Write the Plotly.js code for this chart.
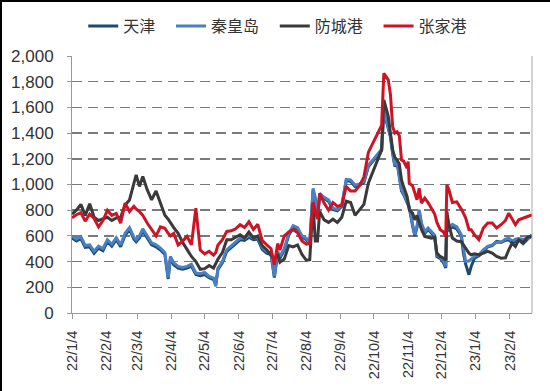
<!DOCTYPE html>
<html>
<head>
<meta charset="utf-8">
<script src="https://cdn.plot.ly/plotly-3.0.1.min.js"></script>
<style>
html,body{margin:0;padding:0;background:#fff;}
#wrap{position:relative;width:550px;height:391px;overflow:hidden;}
#chart{width:550px;height:391px;}
#frame{position:absolute;left:0;top:0;width:550px;height:391px;border-left:2px solid #000;border-top:2px solid #000;box-sizing:border-box;pointer-events:none;}
</style>
</head>
<body>
<div id="wrap"><div id="chart"></div><div id="frame"></div></div>
<script>
const seriesNames = ["天津", "秦皇岛", "防城港", "张家港"];
const seriesColors = ["#1b4a72", "#4a7fc1", "#3a3a3a", "#cc1424"];

const dates = [
"2022-01-04","2022-01-08","2022-01-12","2022-01-16","2022-01-20","2022-01-24","2022-01-28","2022-02-01",
"2022-02-05","2022-02-09","2022-02-13","2022-02-17","2022-02-21","2022-02-25","2022-03-01","2022-03-03",
"2022-03-06","2022-03-09","2022-03-13","2022-03-17","2022-03-21","2022-03-25","2022-03-29","2022-04-01",
"2022-04-03","2022-04-06","2022-04-10","2022-04-14","2022-04-18","2022-04-22","2022-04-26","2022-04-30",
"2022-05-04","2022-05-08","2022-05-12","2022-05-14","2022-05-16","2022-05-20","2022-05-24","2022-05-28",
"2022-06-01","2022-06-05","2022-06-09","2022-06-13","2022-06-17","2022-06-21","2022-06-25","2022-06-29",
"2022-07-03","2022-07-06","2022-07-09","2022-07-11","2022-07-15","2022-07-19","2022-07-23","2022-07-27",
"2022-07-31","2022-08-04","2022-08-07","2022-08-10","2022-08-12","2022-08-14","2022-08-16","2022-08-20",
"2022-08-24","2022-08-28","2022-09-01","2022-09-05","2022-09-09","2022-09-13","2022-09-17","2022-09-21",
"2022-09-25","2022-09-29","2022-10-03","2022-10-07","2022-10-11","2022-10-13","2022-10-15","2022-10-17",
"2022-10-19","2022-10-21","2022-10-23","2022-10-25","2022-10-27","2022-10-29","2022-10-31","2022-11-03",
"2022-11-04","2022-11-05","2022-11-08","2022-11-10","2022-11-12","2022-11-14","2022-11-16","2022-11-19",
"2022-11-22","2022-11-25","2022-11-28","2022-11-30","2022-12-03","2022-12-06","2022-12-08","2022-12-09",
"2022-12-11","2022-12-14","2022-12-18","2022-12-22","2022-12-24","2022-12-26","2022-12-29","2022-12-31",
"2023-01-03","2023-01-07","2023-01-11","2023-01-15","2023-01-19","2023-01-23","2023-01-27","2023-01-31",
"2023-02-03","2023-02-06","2023-02-09","2023-02-12","2023-02-16","2023-02-20","2023-02-24"
];

const zhangjiagang = [
740,765,780,715,770,735,670,720,
800,760,775,700,855,790,830,810,
790,760,700,650,600,670,660,620,
600,620,530,560,596,530,816,490,
460,480,450,470,530,570,635,640,
655,687,665,710,650,690,565,531,
500,375,540,490,600,630,650,625,
560,535,540,860,800,730,930,855,
800,860,830,840,985,950,950,990,
1060,1250,1320,1390,1460,1865,1840,1814,
1700,1450,1400,1410,1380,1192,1180,1127,
1179,1010,990,933,881,971,855,894,
860,815,770,705,648,630,596,998,
955,860,865,810,777,740,648,648,
609,570,661,700,700,661,687,720,
777,735,687,725,735,751,764
];

const fangchenggang = [
770,800,845,760,850,745,720,730,
745,720,740,745,840,880,1000,1075,
985,1062,960,880,950,850,760,730,
700,665,620,550,495,440,400,340,
345,370,350,390,420,470,570,570,
590,609,585,630,585,600,525,492,
450,420,460,395,420,525,515,530,
455,410,415,850,560,560,790,725,
705,730,705,745,870,860,760,800,
845,1010,1100,1190,1270,1658,1600,1530,
1400,1270,1210,1190,1160,1036,980,907,
860,803,777,725,760,700,650,596,
590,583,590,466,440,427,410,790,
680,583,560,555,530,500,466,453,
460,453,465,480,466,440,427,430,
492,544,518,570,550,590,596
];

const qinhuangdao = [
600,575,595,525,530,480,520,500,
570,535,585,530,620,665,590,570,
600,655,600,545,530,505,470,275,
440,390,363,355,363,380,311,305,
315,285,272,207,350,400,492,525,
550,583,580,605,583,590,510,479,
470,285,480,440,500,620,680,665,
600,580,545,970,900,750,930,900,
880,815,805,840,1040,1036,995,1005,
1025,1150,1190,1235,1275,1580,1510,1450,
1380,1250,1150,1180,1080,960,930,870,
840,830,690,609,674,803,700,630,
661,630,605,450,435,400,363,725,
665,690,670,610,492,402,405,420,
440,453,492,518,530,550,550,575,
583,560,575,580,575,580,596
];

const tianjin = [
585,560,580,510,515,465,505,485,
555,520,570,515,605,650,575,555,
585,640,585,530,515,490,455,265,
425,375,350,340,350,365,300,290,
300,275,260,220,340,390,480,510,
535,570,565,590,570,575,495,465,
455,275,465,425,490,605,665,650,
590,570,535,955,885,740,920,890,
870,805,795,830,1030,1025,985,995,
1015,1140,1180,1225,1265,1570,1500,1440,
1370,1240,1140,1170,1070,950,920,860,
830,820,680,600,665,790,690,620,
650,620,595,440,425,390,350,710,
650,670,655,600,466,380,298,363,
427,445,475,515,525,557,550,565,
570,545,560,570,540,575,609
];

const tickDates = ["2022-01-04","2022-02-04","2022-03-04","2022-04-04","2022-05-04","2022-06-04","2022-07-04",
"2022-08-04","2022-09-04","2022-10-04","2022-11-04","2022-12-04","2023-01-04","2023-02-04"];
const tickLabels = ["22/1/4","22/2/4","22/3/4","22/4/4","22/5/4","22/6/4","22/7/4",
"22/8/4","22/9/4","22/10/4","22/11/4","22/12/4","23/1/4","23/2/4"];
const yTicks = [0,200,400,600,800,1000,1200,1400,1600,1800,2000];

const pad = "\u00a0\u00a0\u00a0";
const allValues = [tianjin, qinhuangdao, fangchenggang, zhangjiagang];
const traces = allValues.map((vals, i) => ({
  type: "scatter",
  mode: "lines",
  name: seriesNames[i] + (i < 3 ? pad : ""),
  x: dates,
  y: vals,
  line: {color: seriesColors[i], width: 3},
  hoverinfo: "skip"
}));

const layout = {
  width: 550,
  height: 391,
  margin: {l: 72, r: 18, t: 56, b: 78, pad: 0},
  paper_bgcolor: "#ffffff",
  plot_bgcolor: "#ffffff",
  font: {family: "Liberation Sans, Arial, sans-serif", color: "#333333"},
  showlegend: true,
  legend: {
    orientation: "h",
    xref: "container", yref: "container",
    x: 0.505, xanchor: "center",
    y: 0.933, yanchor: "middle",
    font: {family: "Noto Sans CJK SC, sans-serif", size: 16, color: "#333333"},
    itemwidth: 30,
    tracegroupgap: 0,
    bgcolor: "rgba(0,0,0,0)"
  },
  xaxis: {
    type: "date",
    range: ["2022-01-04", "2023-02-24"],
    tickmode: "array",
    tickvals: tickDates,
    ticktext: tickLabels,
    tickangle: -90,
    tickfont: {size: 14.5, color: "#333333"},
    ticks: "outside",
    ticklen: 5,
    tickcolor: "#999999",
    ticklabelstandoff: 6,
    showline: true,
    linecolor: "#999999",
    linewidth: 1,
    showgrid: false,
    zeroline: false,
    fixedrange: true
  },
  yaxis: {
    range: [0, 2000],
    tickmode: "array",
    tickvals: yTicks,
    tickformat: ",d",
    tickfont: {size: 17, color: "#333333"},
    ticks: "outside",
    ticklen: 4,
    tickcolor: "#999999",
    ticklabelstandoff: 10,
    showline: true,
    linecolor: "#999999",
    linewidth: 1,
    showgrid: true,
    gridcolor: "#7a7a7a",
    gridwidth: 1.5,
    griddash: "10px,6px",
    zeroline: false,
    fixedrange: true
  },
  shapes: [
    {type: "line", xref: "paper", yref: "paper", x0: 1, x1: 1, y0: 0, y1: 1,
     line: {color: "#a8a8a8", width: 1}}
  ]
};

Plotly.newPlot("chart", traces, layout, {displayModeBar: false, staticPlot: true});
</script>
</body>
</html>
